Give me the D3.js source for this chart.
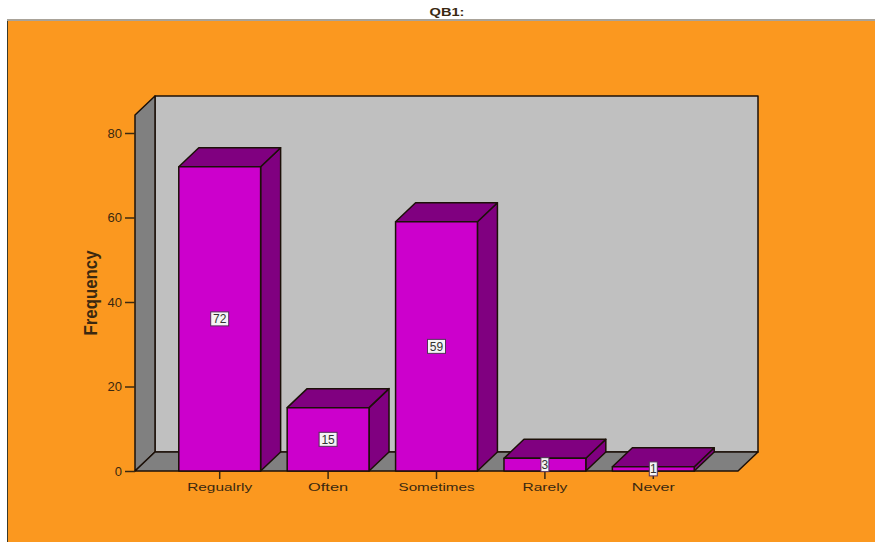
<!DOCTYPE html>
<html>
<head>
<meta charset="utf-8">
<script src="https://cdn.jsdelivr.net/npm/d3@7/dist/d3.min.js"></script>
<style>
  html, body { margin: 0; padding: 0; background: #fff; }
  svg { display: block; }
  text { font-family: "Liberation Sans", Arial, sans-serif; fill: #3a2810; }
</style>
</head>
<body>
<div id="chart"></div>
<script>
let categories = ["Regualrly", "Often", "Sometimes", "Rarely", "Never"];
let frequency = [72, 15, 59, 3, 1];
let y_ticks = [0, 20, 40, 60, 80];
let category_widths = [65, 40, 76, 45, 43];

let width = 875, height = 542;
let depth_x = 20, depth_y = 19;
let floor_y = 471, left_x = 135, right_x = 738, top_y = 115;

let svg = d3.select("#chart").append("svg")
  .attr("width", width)
  .attr("height", height);

let x = d3.scaleBand().domain(categories).range([165.5, 707.5]).paddingInner(0.245).paddingOuter(0.1225);
let y = d3.scaleLinear().domain([0, 80]).range([floor_y, 133]);

// Frame and title
svg.append("rect").attr("x", 7.5).attr("y", 20.5).attr("width", width).attr("height", height)
  .attr("fill", "#fb981f").attr("stroke", "#3a3a2a").attr("stroke-width", 1);
svg.append("line").attr("x1", 7).attr("x2", width).attr("y1", 20).attr("y2", 20)
  .attr("stroke", "#a9a399").attr("stroke-width", 2);
svg.append("text").attr("x", 447).attr("y", 16).attr("text-anchor", "middle")
  .attr("font-size", 10).attr("font-weight", "bold")
  .attr("textLength", 35).attr("lengthAdjust", "spacingAndGlyphs").text("QB1:");

function poly(g, pts, fill) {
  return g.append("polygon")
    .attr("points", pts.map(p => p.join(",")).join(" "))
    .attr("fill", fill)
    .attr("stroke", "#1c1008")
    .attr("stroke-width", 1.5)
    .attr("stroke-linejoin", "round");
}

// Box walls: back, left side, floor
let walls = svg.append("g");
poly(walls, [[left_x + depth_x, top_y - depth_y], [right_x + depth_x, top_y - depth_y],
  [right_x + depth_x, floor_y - depth_y], [left_x + depth_x, floor_y - depth_y]], "#c0c0c0");
poly(walls, [[left_x, top_y], [left_x + depth_x, top_y - depth_y],
  [left_x + depth_x, floor_y - depth_y], [left_x, floor_y]], "#808080");
poly(walls, [[left_x, floor_y], [left_x + depth_x, floor_y - depth_y],
  [right_x + depth_x, floor_y - depth_y], [right_x, floor_y]], "#808080");

// Y axis
let y_axis = svg.append("g").attr("transform", `translate(${left_x},0)`)
  .call(d3.axisLeft(y).tickValues(y_ticks).tickSize(10).tickPadding(3));
y_axis.select(".domain").remove();
y_axis.selectAll("line").attr("stroke", "#3a2810").attr("stroke-width", 1.5);
y_axis.selectAll("text").attr("font-size", 13).attr("fill", "#3a2810");

svg.append("text")
  .attr("transform", "translate(97,293) rotate(-90)")
  .attr("text-anchor", "middle")
  .attr("font-size", 18).attr("font-weight", "bold")
  .attr("textLength", 85).attr("lengthAdjust", "spacingAndGlyphs")
  .text("Frequency");

// X axis
let x_axis = svg.append("g").attr("transform", `translate(0,${floor_y})`)
  .call(d3.axisBottom(x).tickSize(8).tickPadding(4));
x_axis.select(".domain").remove();
x_axis.selectAll("line").attr("stroke", "#3a2810").attr("stroke-width", 1.5);
x_axis.selectAll("text")
  .attr("font-size", 11.5).attr("fill", "#3a2810")
  .attr("textLength", (d, i) => category_widths[i])
  .attr("lengthAdjust", "spacingAndGlyphs");

// 3D bars
let bars = svg.append("g").selectAll("g").data(frequency).enter().append("g");
bars.each(function(d, i) {
  let g = d3.select(this);
  let x0 = x(categories[i]), x1 = x0 + x.bandwidth();
  let y0 = y(d);
  poly(g, [[x1, y0], [x1 + depth_x, y0 - depth_y], [x1 + depth_x, floor_y - depth_y], [x1, floor_y]], "#800080");
  poly(g, [[x0, y0], [x0 + depth_x, y0 - depth_y], [x1 + depth_x, y0 - depth_y], [x1, y0]], "#800080");
  poly(g, [[x0, y0], [x1, y0], [x1, floor_y], [x0, floor_y]], "#cc00cc");
});

// Value labels at the middle of each bar front
let labels = svg.append("g").selectAll("g").data(frequency).enter().append("g")
  .attr("transform", (d, i) => `translate(${x(categories[i]) + x.bandwidth() / 2},${(y(d) + floor_y) / 2})`);
labels.append("rect")
  .attr("x", d => String(d).length > 1 ? -9 : -4)
  .attr("width", d => String(d).length > 1 ? 18 : 8)
  .attr("y", -7).attr("height", 14)
  .attr("fill", "#f4f4f4").attr("stroke", "#55305a").attr("stroke-width", 1);
labels.append("text")
  .attr("text-anchor", "middle").attr("y", 4.5)
  .attr("font-size", 12)
  .style("fill", "#333")
  .text(d => d);
</script>
</body>
</html>
